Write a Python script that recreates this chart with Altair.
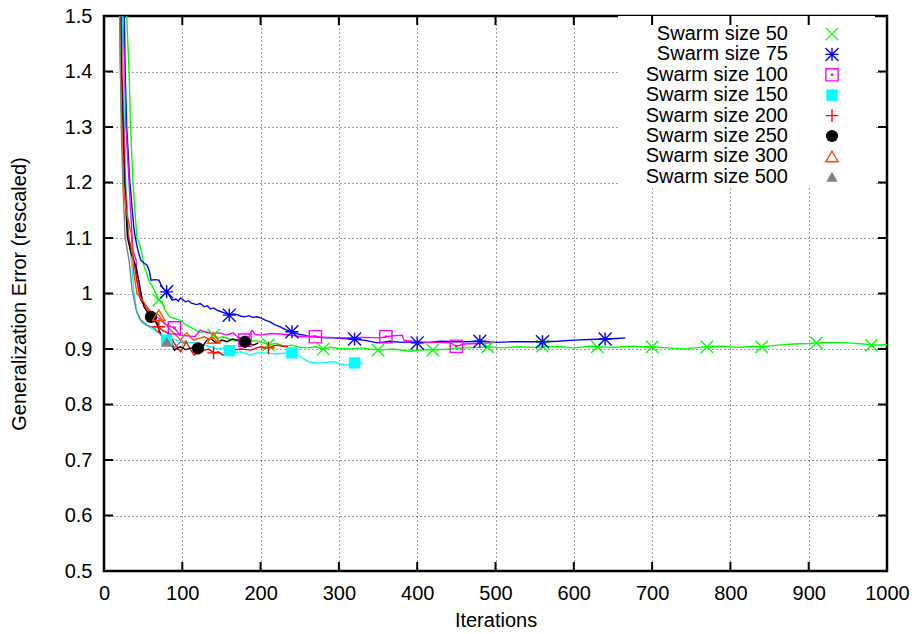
import altair as alt
import pandas as pd

# ---------------- data ----------------
labels = ["Swarm size 50", "Swarm size 75", "Swarm size 100", "Swarm size 150",
          "Swarm size 200", "Swarm size 250", "Swarm size 300", "Swarm size 500"]
colors = ["#00ff00", "#0000ff", "#ff00ff", "#00ffff", "#ff0000", "#000000", "#ff4d00", "#808080"]

x_ticks = [0, 100, 200, 300, 400, 500, 600, 700, 800, 900, 1000]
y_ticks = [0.5, 0.6, 0.7, 0.8, 0.9, 1.0, 1.1, 1.2, 1.3, 1.4, 1.5]

x50 = [26, 29, 32, 34, 37, 42, 45, 48, 51, 55, 58, 61, 64, 67, 70, 74, 78, 84, 90, 97, 103, 110, 116, 123,
       130, 136, 140, 146, 152, 160, 168, 176, 184, 192, 200, 210, 220, 230, 240, 250, 260, 270, 280, 290,
       300, 315, 330, 350, 370, 390, 410, 420, 440, 460, 480, 490, 510, 530, 550, 560, 580, 600, 620, 630,
       650, 670, 690, 700, 720, 740, 760, 770, 790, 810, 830, 840, 860, 880, 900, 910, 930, 950, 970, 980, 1000]
y50 = [1.6, 1.5, 1.4, 1.3, 1.2, 1.1, 1.09, 1.075, 1.05, 1.035, 1.02, 1.015, 1.006, 0.998, 0.988, 0.985, 0.97,
       0.958, 0.955, 0.952, 0.945, 0.94, 0.935, 0.93, 0.932, 0.928, 0.925, 0.92, 0.922, 0.918, 0.915, 0.917,
       0.913, 0.915, 0.913, 0.908, 0.91, 0.905, 0.907, 0.903, 0.902, 0.904, 0.9, 0.903, 0.901, 0.9, 0.902,
       0.898, 0.9, 0.896, 0.899, 0.898, 0.9, 0.902, 0.903, 0.904, 0.902, 0.904, 0.903, 0.905, 0.904, 0.902,
       0.905, 0.904, 0.903, 0.905, 0.904, 0.904, 0.902, 0.9, 0.903, 0.904, 0.905, 0.903, 0.905, 0.904, 0.907,
       0.909, 0.91, 0.911, 0.912, 0.911, 0.909, 0.907, 0.908]
m50 = [70, 140, 210, 280, 350, 420, 490, 560, 630, 700, 770, 840, 910, 980]

x75 = [24, 26, 27, 29, 33, 38, 40, 43, 47, 51, 55, 58, 60, 65, 70, 75, 80, 84, 87, 92, 95, 98, 104, 108,
       111, 118, 123, 128, 132, 136, 140, 144, 148, 152, 156, 160, 165, 170, 175, 180, 185, 190, 195, 200,
       206, 212, 218, 225, 232, 240, 250, 256, 263, 270, 275, 285, 293, 305, 320, 335, 349, 365, 380, 390,
       400, 415, 430, 446, 460, 480, 500, 520, 545, 560, 580, 600, 620, 640, 655, 666]
y75 = [1.6, 1.5, 1.4, 1.3, 1.2, 1.12, 1.1, 1.08, 1.06, 1.055, 1.051, 1.04, 1.024, 1.025, 1.024, 1.01, 1.003,
       0.995, 0.988, 0.99, 0.986, 0.992, 0.985, 0.987, 0.983, 0.98, 0.982, 0.976, 0.978, 0.972, 0.974, 0.97,
       0.968, 0.966, 0.964, 0.961, 0.963, 0.962, 0.959, 0.958, 0.960, 0.957, 0.958, 0.956, 0.952, 0.949,
       0.944, 0.94, 0.935, 0.931, 0.926, 0.925, 0.922, 0.923, 0.921, 0.92, 0.92, 0.919, 0.918, 0.915, 0.911,
       0.914, 0.912, 0.913, 0.911, 0.912, 0.914, 0.913, 0.913, 0.914, 0.912, 0.913, 0.913, 0.913, 0.914,
       0.916, 0.917, 0.918, 0.919, 0.92]
m75 = [80, 160, 240, 320, 400, 480, 560, 640]

x100 = [22, 24, 26, 28, 32, 36, 37, 41, 42, 45, 47, 50, 54, 58, 64, 70, 76, 82, 90, 97, 105, 116, 123, 130,
        140, 148, 156, 165, 172, 180, 185, 189, 193, 200, 212, 225, 238, 251, 260, 270, 285, 306, 330, 353,
        360, 370, 381, 383, 398, 420, 443, 450, 460, 475, 494, 500]
y100 = [1.6, 1.5, 1.4, 1.3, 1.2, 1.1, 1.078, 1.06, 1.024, 1.005, 0.994, 0.985, 0.976, 0.968, 0.961, 0.955,
        0.948, 0.942, 0.938, 0.925, 0.924, 0.922, 0.934, 0.93, 0.928, 0.929, 0.925, 0.929, 0.92, 0.916, 0.922,
        0.934, 0.926, 0.925, 0.928, 0.927, 0.925, 0.922, 0.923, 0.922, 0.921, 0.92, 0.921, 0.92, 0.922, 0.924,
        0.925, 0.916, 0.913, 0.912, 0.911, 0.905, 0.909, 0.91, 0.911, 0.912]
m100 = [90, 180, 270, 360, 450]

x150 = [21, 23, 25, 26, 28, 32, 35, 38, 42, 45, 49, 55, 60, 68, 74, 80, 87, 93, 100, 108, 119, 128, 136,
        145, 152, 160, 167, 174, 187, 195, 208, 220, 234, 240, 248, 255, 263, 276, 285, 293, 302, 310, 320, 331]
y150 = [1.6, 1.5, 1.4, 1.3, 1.2, 1.1, 1.06, 1.006, 0.965, 0.955, 0.947, 0.942, 0.938, 0.931, 0.925, 0.916,
        0.918, 0.916, 0.914, 0.912, 0.911, 0.907, 0.904, 0.9, 0.902, 0.897, 0.893, 0.895, 0.889, 0.893, 0.893,
        0.891, 0.893, 0.893, 0.889, 0.882, 0.876, 0.875, 0.876, 0.877, 0.873, 0.871, 0.875, 0.874]
m150 = [80, 160, 240, 320]

x200 = [20, 22, 23, 25, 27, 31, 36, 40, 42, 45, 47, 51, 55, 60, 64, 70, 74, 80, 85, 90, 95, 98, 102, 105,
        110, 115, 120, 128, 134, 140, 146, 152, 158, 165, 175, 187, 195, 200, 210, 215, 221, 228, 235]
y200 = [1.6, 1.5, 1.4, 1.3, 1.2, 1.1, 1.078, 1.04, 1.024, 1.0, 0.988, 0.98, 0.974, 0.966, 0.961, 0.94, 0.934,
        0.93, 0.922, 0.91, 0.9, 0.895, 0.905, 0.913, 0.9, 0.889, 0.893, 0.898, 0.9, 0.893, 0.895, 0.889, 0.893,
        0.898, 0.9, 0.898, 0.902, 0.904, 0.902, 0.905, 0.907, 0.905, 0.904]
m200 = [70, 140, 210]

x250 = [19, 21, 22, 24, 26, 30, 35, 41, 45, 48, 51, 55, 60, 63, 67, 70, 74, 80, 85, 90, 95, 98, 104, 112,
        120, 126, 131, 136, 140, 144, 150, 157, 164, 170, 175, 180, 186, 191, 197]
y250 = [1.6, 1.5, 1.4, 1.3, 1.2, 1.1, 1.07, 1.048, 1.019, 0.995, 0.976, 0.968, 0.958, 0.952, 0.947, 0.935,
        0.922, 0.918, 0.913, 0.898, 0.903, 0.904, 0.899, 0.902, 0.901, 0.905, 0.915, 0.92, 0.914, 0.911,
        0.916, 0.913, 0.918, 0.916, 0.912, 0.913, 0.909, 0.907, 0.911]
m250 = [60, 120, 180]

x300 = [18, 20, 21, 23, 25, 28, 35, 38, 42, 46, 51, 55, 60, 65, 70, 77, 85, 92, 98, 102, 106, 110, 115,
        121, 128, 134, 140, 145, 150]
y300 = [1.6, 1.5, 1.4, 1.3, 1.2, 1.15, 1.106, 1.037, 1.001, 0.992, 0.985, 0.975, 0.967, 0.964, 0.961, 0.947,
        0.934, 0.925, 0.916, 0.925, 0.929, 0.921, 0.916, 0.919, 0.922, 0.918, 0.92, 0.912, 0.913]
m300 = [70, 140]

x500 = [18, 20, 21, 22, 24, 27, 32, 36, 41, 47, 55, 64, 73, 80, 85, 90, 94, 98, 102, 105]
y500 = [1.6, 1.5, 1.4, 1.3, 1.2, 1.1, 1.06, 1.006, 0.97, 0.952, 0.943, 0.938, 0.925, 0.913, 0.915, 0.902,
        0.908, 0.913, 0.91, 0.916]
m500 = [80]

series_x = [x50, x75, x100, x150, x200, x250, x300, x500]
series_y = [y50, y75, y100, y150, y200, y250, y300, y500]
series_m = [m50, m75, m100, m150, m200, m250, m300, m500]

# ---------------- styling ----------------
FONT = "Liberation Sans"
W, H = 783, 555

P_X = "M-1,-1L1,1M-1,1L1,-1"
P_STAR = "M-1,0L1,0M0,-1L0,1M-1,-1L1,1M-1,1L1,-1"
P_BOXDOT = "M-1,-1L1,-1L1,1L-1,1ZM-0.1,-0.1L0.1,-0.1L0.1,0.1L-0.1,0.1Z"
P_PLUS = "M-1,0L1,0M0,-1L0,1"
# (shape, filled, size)
markers = [(P_X, False, 150), (P_STAR, False, 170), (P_BOXDOT, False, 150), ("square", True, 130),
           (P_PLUS, False, 160), ("circle", True, 150), ("triangle-up", False, 150), ("triangle-up", True, 130)]

xscale = alt.Scale(domain=[0, 1000], nice=False, zero=False)
yscale = alt.Scale(domain=[0.5, 1.5], nice=False, zero=False)

xaxis = alt.Axis(title="Iterations", values=x_ticks, format="d", grid=True, gridDash=[1, 3],
                 gridColor="#000000", gridOpacity=0.75, gridWidth=1, ticks=False, domain=False,
                 labelFont=FONT, labelFontSize=20, labelColor="#000000", labelPadding=12,
                 labelOverlap=False, labelFlush=False,
                 titleFont=FONT, titleFontSize=20, titleFontWeight="normal", titleColor="#000000",
                 titlePadding=7)
yaxis = alt.Axis(title="Generalization Error (rescaled)", values=y_ticks, format=".1~f", grid=True,
                 gridDash=[1, 3], gridColor="#000000", gridOpacity=0.75, gridWidth=1, ticks=False,
                 domain=False, labelFont=FONT, labelFontSize=20, labelColor="#000000", labelPadding=12,
                 labelOverlap=False, labelFlush=False,
                 titleFont=FONT, titleFontSize=20, titleFontWeight="normal", titleColor="#000000",
                 titlePadding=35)

X = alt.X("x:Q", scale=xscale, axis=xaxis)
Y = alt.Y("y:Q", scale=yscale, axis=yaxis)

layers = []

# curves
for i in range(len(labels)):
    df = pd.DataFrame({"x": series_x[i], "y": series_y[i]})
    layers.append(alt.Chart(df).mark_line(clip=True, strokeWidth=1.4, color=colors[i]).encode(x=X, y=Y))

# point markers (placed on curve points)
for i in range(len(labels)):
    df = pd.DataFrame({"x": series_x[i], "y": series_y[i]})
    df = df[df["x"].isin(series_m[i])]
    shape, filled, size = markers[i]
    layers.append(alt.Chart(df).mark_point(shape=shape, filled=filled, size=size, color=colors[i],
                                           strokeWidth=1.4, opacity=1, clip=True).encode(x=X, y=Y))

# legend background (hides grid like gnuplot's key box)
bg_df = pd.DataFrame({"a": [0]})
layers.append(alt.Chart(bg_df).mark_rect(color="white").encode(
    x=alt.value(514), x2=alt.value(771), y=alt.value(0), y2=alt.value(171)))

# legend rows
for i, lab in enumerate(labels):
    ldf = pd.DataFrame({"label": [lab]})
    ypix = 18 + 20.4 * i
    layers.append(alt.Chart(ldf).mark_text(align="right", baseline="middle", font=FONT, fontSize=20,
                                           color="#000000").encode(
        text="label:N", x=alt.value(684), y=alt.value(ypix)))
    shape, filled, size = markers[i]
    layers.append(alt.Chart(ldf).mark_point(shape=shape, filled=filled, size=size, color=colors[i],
                                            strokeWidth=1.4, opacity=1).encode(
        x=alt.value(728), y=alt.value(ypix)))

# inward tick marks on all four sides
xt_df = pd.DataFrame({"x": x_ticks})
yt_df = pd.DataFrame({"y": y_ticks})
layers.append(alt.Chart(xt_df).mark_rule(color="black", strokeWidth=2).encode(
    x=X, y=alt.value(H), y2=alt.value(H - 9)))
layers.append(alt.Chart(xt_df).mark_rule(color="black", strokeWidth=2).encode(
    x=X, y=alt.value(0), y2=alt.value(9)))
layers.append(alt.Chart(yt_df).mark_rule(color="black", strokeWidth=2).encode(
    y=Y, x=alt.value(0), x2=alt.value(9)))
layers.append(alt.Chart(yt_df).mark_rule(color="black", strokeWidth=2).encode(
    y=Y, x=alt.value(W), x2=alt.value(W - 9)))

chart = alt.layer(*layers).properties(
    width=W, height=H,
    autosize=alt.AutoSizeParams(type="none"),
    padding={"left": 104, "top": 16, "right": 29, "bottom": 63},
    background="white",
).configure_view(stroke="black", strokeWidth=2.5)

chart.save("out.html", embed_options={"renderer": "svg", "actions": False})
